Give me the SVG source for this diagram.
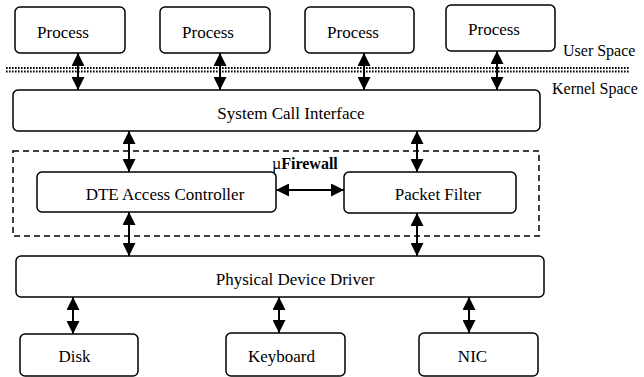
<svg xmlns="http://www.w3.org/2000/svg" width="644" height="377" viewBox="0 0 644 377">
  <style>
    .box { fill: #fff; stroke: #000; stroke-width: 1.5; }
    .link { stroke: #000; stroke-width: 2; fill: none; marker-start: url(#head); marker-end: url(#head); }
    .dots { stroke: #000; stroke-width: 1.8; stroke-dasharray: 1.6 1.4; fill: none; }
  </style>
  <defs>
    <marker id="head" viewBox="0 0 10 10" refX="10" refY="5" markerUnits="userSpaceOnUse" markerWidth="13" markerHeight="13" orient="auto-start-reverse">
      <path d="M0,0 L10,5 L0,10 z" fill="#000"/>
    </marker>
  </defs>

  <rect width="644" height="377" fill="#fff"/>

  <!-- user / kernel boundary -->
  <g id="boundary">
    <line class="dots" x1="6" y1="68" x2="629" y2="68"/>
    <line class="dots" x1="6" y1="71.5" x2="629" y2="71.5"/>
    <text font-family="Liberation Serif" font-size="16" x="563" y="56">User Space</text>
    <text font-family="Liberation Serif" font-size="16" x="552" y="94">Kernel Space</text>
  </g>

  <!-- firewall enclosure -->
  <g id="firewall">
    <rect x="13" y="151" width="526" height="85" fill="none" stroke="#000" stroke-width="1.5" stroke-dasharray="6 4"/>
    <text font-family="Liberation Serif" font-size="16" x="272" y="169">&#181;<tspan font-weight="bold">Firewall</tspan></text>
  </g>

  <g id="process1">
    <rect class="box" x="15" y="7" width="110" height="46" rx="5"/>
    <text font-family="Liberation Serif" font-size="17" text-anchor="middle" x="63" y="38">Process</text>
  </g>
  <g id="process2">
    <rect class="box" x="160" y="7" width="110" height="46" rx="5"/>
    <text font-family="Liberation Serif" font-size="17" text-anchor="middle" x="208" y="38">Process</text>
  </g>
  <g id="process3">
    <rect class="box" x="305" y="7" width="109" height="46" rx="5"/>
    <text font-family="Liberation Serif" font-size="17" text-anchor="middle" x="353" y="38">Process</text>
  </g>
  <g id="process4">
    <rect class="box" x="446" y="5" width="109" height="46" rx="5"/>
    <text font-family="Liberation Serif" font-size="17" text-anchor="middle" x="494" y="35">Process</text>
  </g>

  <g id="syscall">
    <rect class="box" x="13" y="90" width="527" height="41" rx="5"/>
    <text font-family="Liberation Serif" font-size="17" text-anchor="middle" x="291" y="119">System Call Interface</text>
  </g>

  <g id="dte">
    <rect class="box" x="37" y="172" width="239" height="40" rx="5"/>
    <text font-family="Liberation Serif" font-size="17" text-anchor="middle" x="165" y="200">DTE Access Controller</text>
  </g>
  <g id="packetfilter">
    <rect class="box" x="344" y="172" width="172" height="41" rx="5"/>
    <text font-family="Liberation Serif" font-size="17" text-anchor="middle" x="438" y="200">Packet Filter</text>
  </g>

  <g id="driver">
    <rect class="box" x="16" y="256" width="528" height="41" rx="5"/>
    <text font-family="Liberation Serif" font-size="17" text-anchor="middle" x="295" y="285">Physical Device Driver</text>
  </g>

  <g id="disk">
    <rect class="box" x="20" y="334" width="118" height="42" rx="5"/>
    <text font-family="Liberation Serif" font-size="17" text-anchor="middle" x="74.5" y="362">Disk</text>
  </g>
  <g id="keyboard">
    <rect class="box" x="226" y="333" width="119" height="43" rx="5"/>
    <text font-family="Liberation Serif" font-size="17" text-anchor="middle" x="281.5" y="362">Keyboard</text>
  </g>
  <g id="nic">
    <rect class="box" x="419" y="333" width="119" height="43" rx="5"/>
    <text font-family="Liberation Serif" font-size="17" text-anchor="middle" x="472.5" y="362">NIC</text>
  </g>

  <!-- bidirectional connectors -->
  <g id="connectors">
    <line class="link" x1="78" y1="53" x2="78" y2="90"/>
    <line class="link" x1="220" y1="53" x2="220" y2="90"/>
    <line class="link" x1="364" y1="53" x2="364" y2="90"/>
    <line class="link" x1="497" y1="51" x2="497" y2="90"/>
    <line class="link" x1="129" y1="131" x2="129" y2="172"/>
    <line class="link" x1="417" y1="131" x2="417" y2="172"/>
    <line class="link" x1="276" y1="190" x2="344" y2="190"/>
    <line class="link" x1="129" y1="212" x2="129" y2="256"/>
    <line class="link" x1="417" y1="213" x2="417" y2="256"/>
    <line class="link" x1="73" y1="297" x2="73" y2="334"/>
    <line class="link" x1="279" y1="297" x2="279" y2="333"/>
    <line class="link" x1="469" y1="297" x2="469" y2="333"/>
  </g>
</svg>
